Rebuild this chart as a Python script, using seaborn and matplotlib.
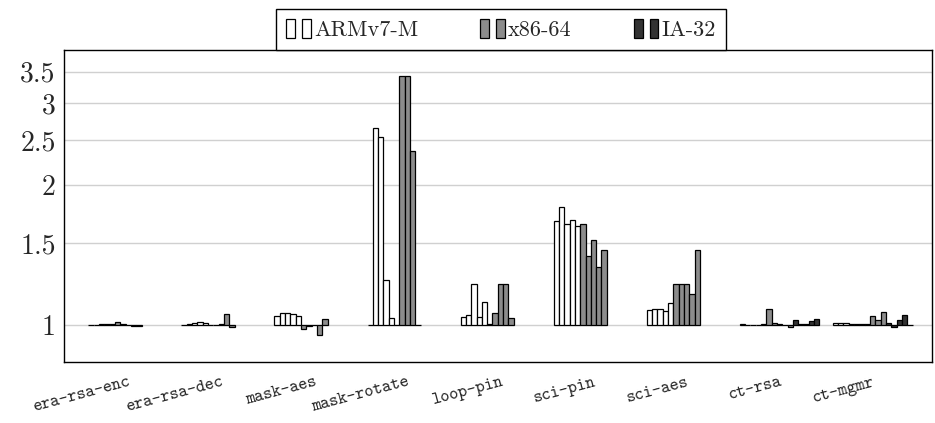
import matplotlib

matplotlib.use("Agg")

import matplotlib.pyplot as plt
import numpy as np
import pandas as pd
import seaborn as sns
from matplotlib.legend_handler import HandlerTuple
from matplotlib.patches import Patch
from matplotlib.ticker import NullFormatter, NullLocator

nan = np.nan

categories = [
    "era-rsa-enc",
    "era-rsa-dec",
    "mask-aes",
    "mask-rotate",
    "loop-pin",
    "sci-pin",
    "sci-aes",
    "ct-rsa",
    "ct-mgmr",
]

# five runs per architecture and benchmark (relative slowdown, 1 = baseline)
arm_v7m = [
    [1.003, 1.003, 1.004, 1.004, 1.004],
    [1.002, 1.004, 1.013, 1.014, 1.013],
    [1.047, 1.060, 1.060, 1.058, 1.047],
    [1.000, 2.65, 2.54, 1.25, 1.037],
    [1.039, 1.049, 1.223, 1.039, 1.119],
    [1.67, 1.79, 1.65, 1.68, 1.63],
    [1.076, 1.082, 1.082, 1.072, 1.115],
    [1.006, 1.001, 1.001, 1.003, 1.005],
    [1.010, 1.010, 1.010, 1.006, 1.004],
]
x86_64 = [
    [1.016, 1.006, 1.002, 0.998, 0.998],
    [1.003, 1.003, 1.004, 1.056, 0.990],
    [0.982, 0.998, 1.002, 0.952, 1.032],
    [1.000, 3.43, 3.43, 2.36, 1.000],
    [1.005, 1.060, 1.227, 1.227, 1.035],
    [1.65, 1.41, 1.52, 1.33, 1.45],
    [1.227, 1.227, 1.227, 1.164, 1.45],
    [1.082, 1.010, 1.004, 1.003, 0.992],
    [1.008, 1.008, 1.048, 1.027, 1.065],
]
ia_32 = [
    [nan, nan, nan, nan, nan],
    [nan, nan, nan, nan, nan],
    [nan, nan, nan, nan, nan],
    [nan, nan, nan, nan, nan],
    [nan, nan, nan, nan, nan],
    [nan, nan, nan, nan, nan],
    [nan, nan, nan, nan, nan],
    [1.028, 1.005, 1.008, 1.020, 1.029],
    [1.013, 0.992, 1.027, 1.051, 1.002],
]

y_ticks = [1, 1.5, 2, 2.5, 3, 3.5]
y_tick_labels = ["1", "1.5", "2", "2.5", "3", "3.5"]

archs = [
    ("ARMv7-M", arm_v7m, "white"),
    ("x86-64", x86_64, "#8c8c8c"),
    ("IA-32", ia_32, "#333333"),
]

rows = []
for arch, values, _ in archs:
    for bench, runs in zip(categories, values):
        for i, v in enumerate(runs):
            rows.append({"benchmark": bench, "series": f"{arch} {i}", "delta": v - 1.0})
data = pd.DataFrame(rows)

hue_order = [f"{arch} {i}" for arch, _, _ in archs for i in range(5)]
palette = {f"{arch} {i}": color for arch, _, color in archs for i in range(5)}

sns.set_style("white")

fig = plt.figure(figsize=(9.35, 4.23), dpi=100)
ax = fig.add_axes([0.0685, 0.144, 0.9285, 0.738])

sns.barplot(
    data=data,
    x="benchmark",
    y="delta",
    hue="series",
    order=categories,
    hue_order=hue_order,
    palette=palette,
    saturation=1,
    width=0.857,
    errorbar=None,
    legend=False,
    bottom=1.0,
    edgecolor="black",
    linewidth=0.9,
    ax=ax,
)

ax.set_yscale("log")
ax.set_ylim(0.833, 3.90)
ax.set_xlim(-0.69, 8.64)
ax.set_yticks(y_ticks)
ax.set_yticklabels(y_tick_labels, fontfamily="cmr10", fontsize=20)
ax.yaxis.set_minor_locator(NullLocator())
ax.yaxis.set_minor_formatter(NullFormatter())
ax.set_xticks(range(len(categories)))
ax.set_xticklabels(
    categories,
    rotation=15,
    ha="right",
    rotation_mode="anchor",
    fontfamily="cmtt10",
    fontsize=12.5,
)
ax.tick_params(axis="both", length=0)
ax.tick_params(axis="x", pad=9)
ax.tick_params(axis="y", pad=6)
ax.set_xlabel("")
ax.set_ylabel("")
ax.grid(axis="y", color="#d0d0d0", linewidth=1)
ax.set_axisbelow(True)
for spine in ax.spines.values():
    spine.set_color("black")
    spine.set_linewidth(1.0)

handles = [
    (Patch(facecolor=c, edgecolor="black", linewidth=0.9),
     Patch(facecolor=c, edgecolor="black", linewidth=0.9))
    for _, _, c in archs
]
leg = fig.legend(
    handles,
    [a for a, _, _ in archs],
    handler_map={tuple: HandlerTuple(ndivide=None, pad=0.3)},
    ncol=3,
    loc="lower center",
    bbox_to_anchor=(0.536, 0.882),
    frameon=True,
    fancybox=False,
    edgecolor="black",
    framealpha=1,
    prop={"family": "cmr10", "size": 16},
    handlelength=1.1,
    handleheight=0.95,
    handletextpad=0.15,
    columnspacing=2.8,
    borderpad=0.45,
    borderaxespad=0,
)
leg.get_frame().set_linewidth(1.0)

fig.savefig("out.png", dpi=100)
